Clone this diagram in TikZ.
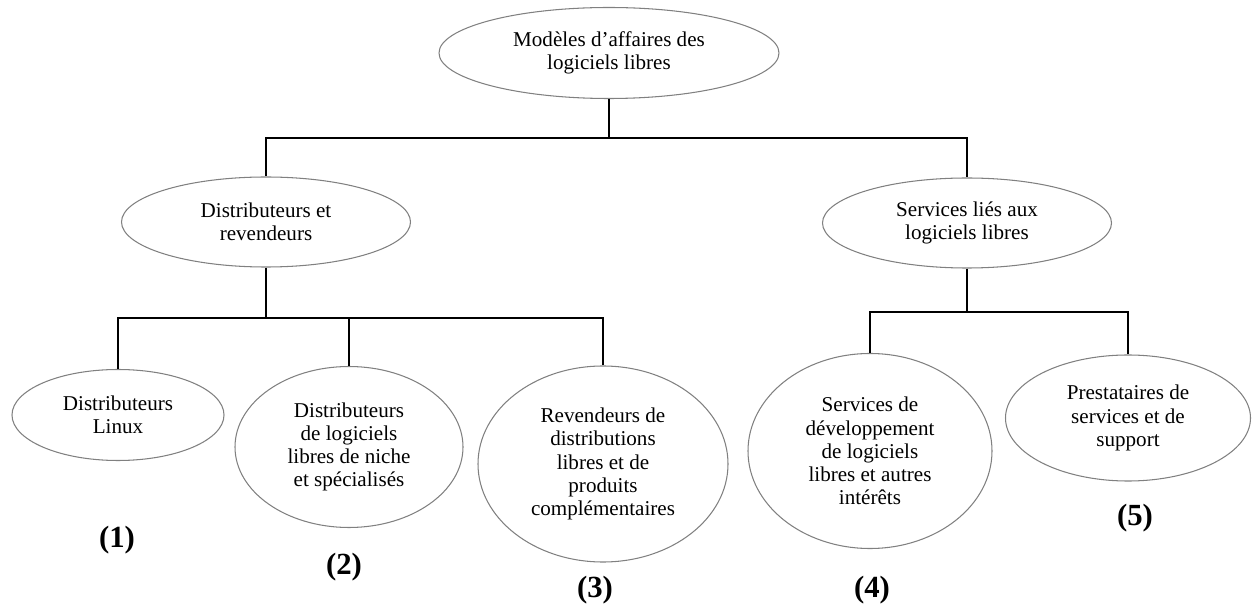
\documentclass[tikz,border=0pt]{standalone}
\usepackage{fontspec}
\setmainfont{Liberation Serif}
\usepackage{tikz}
\usetikzlibrary{shapes,positioning}

\begin{document}
\begin{tikzpicture}[x=0.02cm, y=-0.02cm,
                    bubble/.style={ellipse, draw=gray, line width=0.6pt, inner sep=0pt, align=center,
                                   font=\fontsize{12}{13.2}\selectfont},
                    link/.style={line width=0.8pt, black},
                    tag/.style={font=\fontsize{17.5}{20}\selectfont\bfseries},
                   ]

\useasboundingbox (0,0) rectangle (1258,604);

% ellipses
\node[bubble, minimum width=340*0.02cm, minimum height=91*0.02cm] (top) at (609,53) {Modèles d’affaires des\\logiciels libres};

\node[bubble, minimum width=289*0.02cm, minimum height=90*0.02cm] (distrib) at (266,222) {Distributeurs et\\revendeurs};
\node[bubble, minimum width=289*0.02cm, minimum height=90*0.02cm] (services) at (967,223) {Services liés aux\\logiciels libres};

\node[bubble, minimum width=212*0.02cm, minimum height=91*0.02cm] (linux) at (118,415) {Distributeurs\\Linux};
\node[bubble, minimum width=228*0.02cm, minimum height=161*0.02cm] (niche) at (349,447) {Distributeurs\\de logiciels\\libres de niche\\et spécialisés};
\node[bubble, minimum width=250*0.02cm, minimum height=196*0.02cm] (revend) at (603,464) {Revendeurs de\\distributions\\libres et de\\produits\\complémentaires};
\node[bubble, minimum width=244*0.02cm, minimum height=195*0.02cm] (dev) at (870,451) {Services de\\développement\\de logiciels\\libres et autres\\intérêts};
\node[bubble, minimum width=245*0.02cm, minimum height=126*0.02cm] (support) at (1128,418) {Prestataires de\\services et de\\support};

% numbers
\node[tag] (n1) at (117,540) {(1)};
\node[tag] (n2) at (344,567) {(2)};
\node[tag] (n3) at (595,590) {(3)};
\node[tag] (n4) at (872,590) {(4)};
\node[tag] (n5) at (1135,518) {(5)};

% connectors
\coordinate (barA) at (0,138);
\coordinate (barB) at (0,318);
\coordinate (barC) at (0,312);

\draw[link] (top.south) -- (top.south |- barA) -| (distrib.north);
\draw[link] (top.south |- barA) -| (services.north);

\draw[link] (distrib.south) -- (distrib.south |- barB) -| (linux.north);
\draw[link] (distrib.south |- barB) -| (revend.north);
\draw[link] (niche.north |- barB) -- (niche.north);

\draw[link] (services.south) -- (services.south |- barC) -| (dev.north);
\draw[link] (services.south |- barC) -| (support.north);

\end{tikzpicture}
\end{document}
